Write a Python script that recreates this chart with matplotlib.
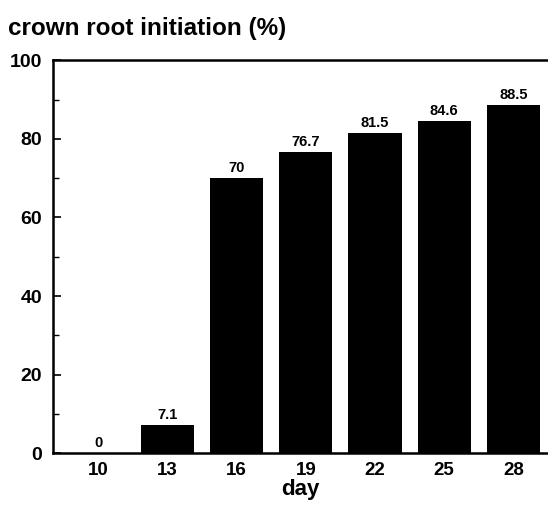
import matplotlib.pyplot as plt
from matplotlib.ticker import MultipleLocator

days = ["10", "13", "16", "19", "22", "25", "28"]
initiation = [0, 7.1, 70, 76.7, 81.5, 84.6, 88.5]
value_labels = ["0", "7.1", "70", "76.7", "81.5", "84.6", "88.5"]

plt.rcParams['font.family'] = ['Liberation Sans', 'DejaVu Sans']

fig = plt.figure(figsize=(5.48, 5.15), dpi=100)
ax = fig.add_axes([0.097, 0.12, 0.903, 0.763])

x = range(len(days))
ax.bar(x, initiation, width=0.77, color='black')
for i, v in enumerate(initiation):
    ax.text(i, v + 0.8, value_labels[i], ha='center', va='bottom',
            fontsize=10.5, fontweight='bold')

ax.set_xlim(-0.65, 6.5)
ax.set_ylim(0, 100)
ax.set_xticks(list(x))
ax.set_xticklabels(days, fontsize=13.5, fontweight='bold')
ax.yaxis.set_major_locator(MultipleLocator(20))
ax.yaxis.set_minor_locator(MultipleLocator(10))
for lab in ax.get_yticklabels():
    lab.set_fontweight('bold')
    lab.set_fontsize(14)
ax.tick_params(axis='x', length=0, pad=6)
ax.tick_params(axis='y', which='major', direction='in', length=6, width=1.2, pad=8)
ax.tick_params(axis='y', which='minor', direction='in', length=4, width=1)
ax.spines['right'].set_visible(False)
for s in ['left', 'bottom', 'top']:
    ax.spines[s].set_linewidth(1.8)

ax.set_xlabel("day", fontsize=16, fontweight='bold', labelpad=0)
fig.text(0.015, 0.945, "crown root initiation (%)", fontsize=17.5,
         fontweight='bold', ha='left', va='center')

fig.savefig("out.png", dpi=100)
